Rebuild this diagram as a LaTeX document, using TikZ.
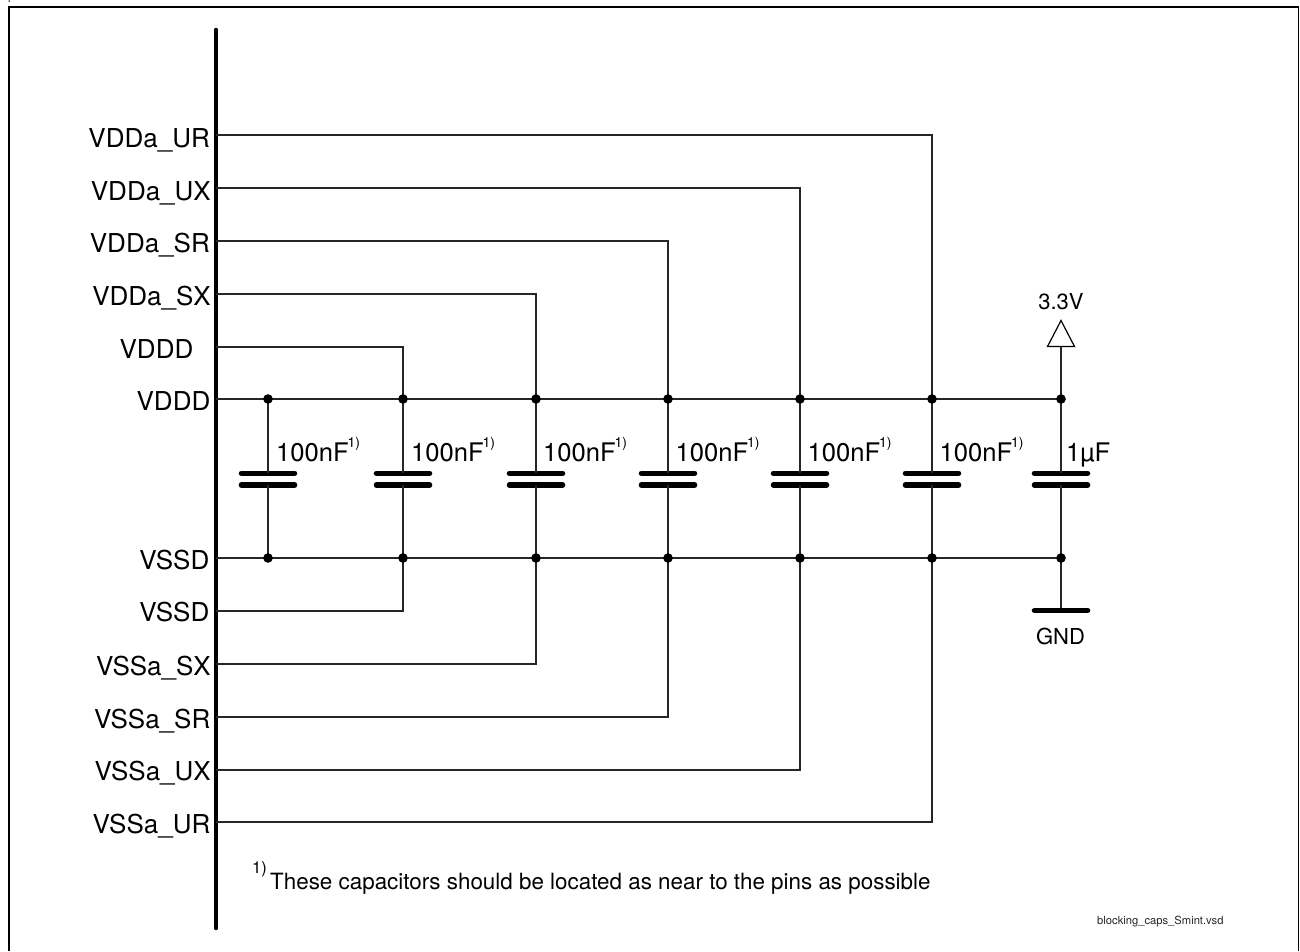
\documentclass[tikz,border=0pt]{standalone}
\usepackage{fontspec}
\setmainfont{TeX Gyre Heros}
\newcommand{\fsz}[1]{\fontsize{#1}{#1}\selectfont}
\tikzset{
  x=1pt,y=-1pt,
  wire/.style={line width=1.15pt,black!85},
  busbar/.style={line width=4.6pt,line cap=round},
  plate/.style={line width=5.6pt,line cap=round},
  frameline/.style={line width=2.3pt,line join=miter},
  dotnode/.style={circle,fill=black,inner sep=0pt,minimum size=9.6pt},
  pinlabel/.style={anchor=base east,inner sep=0pt,font=\fsz{26}},
  valuelabel/.style={anchor=base west,inner sep=0pt,font=\fsz{25.6}},
  smalllabel/.style={anchor=base,inner sep=0pt,font=\fsz{22}},
  noteref/.style={anchor=base west,inner sep=0pt,font=\fsz{15}},
  railsym/.style={draw=black,fill=white,line width=1.2pt,line join=miter},
}
\begin{document}
\begin{tikzpicture}
\useasboundingbox (0,0) rectangle (1300,951);
\fill[white] (0,0) rectangle (1300,951);
% page frame
\draw[frameline] (9.2,951) -- (9.2,6.7) -- (1298.5,6.7);
\draw[line width=1.6pt] (1298.5,6.7) -- (1298.5,951);
\fill (9.2,1) circle (0.8);
% pin bus
\coordinate (bustop) at (216,30);
\coordinate (busbot) at (216,928);
\draw[busbar] (bustop) -- (busbot);

% bus taps
\foreach \nm/\yy in {ur/135,ux/188,sr/241,sx/294,dd/347,vdd/399,vss/558,ss/611,ssx/664,ssr/717,sux/770,sur/822}
  \coordinate (t\nm) at (216,\yy);

% pin labels
\node[pinlabel] at (210,147) {VDDa\_UR};
\node[pinlabel] at (211,200) {VDDa\_UX};
\node[pinlabel] at (210,252) {VDDa\_SR};
\node[pinlabel] at (211,305) {VDDa\_SX};
\node[pinlabel] at (193.5,358) {VDDD};
\node[pinlabel] at (210.5,410) {VDDD};
\node[pinlabel] at (209.5,569) {VSSD};
\node[pinlabel] at (209.5,621.5) {VSSD};
\node[pinlabel] at (211,675) {VSSa\_SX};
\node[pinlabel] at (210.5,728) {VSSa\_SR};
\node[pinlabel] at (211,780.5) {VSSa\_UX};
\node[pinlabel] at (210.5,833.5) {VSSa\_UR};

% junction points on the rails and capacitors
\foreach \nm/\xx in {a/268,b/403,c/536,d/668,e/800,f/932,g/1061}{
  \coordinate (top\nm) at (\xx,399);
  \coordinate (bot\nm) at (\xx,558);
  \coordinate (pu\nm) at (\xx,473.3);
  \coordinate (pl\nm) at (\xx,485);
  \draw[plate] (\xx-26.5,473.3) -- (\xx+26.5,473.3);
  \draw[plate] (\xx-26.5,485) -- (\xx+26.5,485);
  \draw[wire] (top\nm) -- (pu\nm);
  \draw[wire] (pl\nm) -- (bot\nm);
}

% rails
\draw[wire] (tvdd) -- (topg);
\draw[wire] (tvss) -- (botg);

% supply feeds
\draw[wire] (tur) -| (topf);
\draw[wire] (tux) -| (tope);
\draw[wire] (tsr) -| (topd);
\draw[wire] (tsx) -| (topc);
\draw[wire] (tdd) -| (topb);
\draw[wire] (tss) -| (botb);
\draw[wire] (tssx) -| (botc);
\draw[wire] (tssr) -| (botd);
\draw[wire] (tsux) -| (bote);
\draw[wire] (tsur) -| (botf);

% 3.3 V supply symbol
\coordinate (vcc) at (1061,346.5);
\draw[wire] (vcc) -- (topg);
\draw[railsym] (1047.5,346.5) -- (1061,320.5) -- (1074.5,346.5) -- cycle;
\node[smalllabel] at (1061,309) {3.3V};

% ground symbol
\coordinate (gnd) at (1061,610.5);
\draw[wire] (botg) -- (gnd);
\draw[plate] (1034.5,610.5) -- (1087.5,610.5);
\node[smalllabel] at (1060.5,644.5) {GND};

% dots on top of the wires
\foreach \nm in {a,b,c,d,e,f,g}{
  \node[dotnode] at (top\nm) {};
  \node[dotnode] at (bot\nm) {};
}

% capacitor values
\foreach \xx in {276,411,543,675.5,807.5,939.5}{
  \node[valuelabel] at (\xx,461) {100nF};
  \node[noteref,font=\fsz{14}] at (\xx+71.5,447.5) {1)};
}
\node[valuelabel] at (1066,461) {1µF};

% footnote
\node[noteref,font=\fsz{16.5}] at (252,873) {1)};
\node[anchor=base west,inner sep=0pt,font=\fsz{22.4}] at (270,889) {These capacitors should be located as near to the pins as possible};
\node[anchor=base west,inner sep=0pt,font=\fsz{11.2},text=black!85] at (1097,924.5) {blocking\_caps\_Smint.vsd};
\end{tikzpicture}
\end{document}
